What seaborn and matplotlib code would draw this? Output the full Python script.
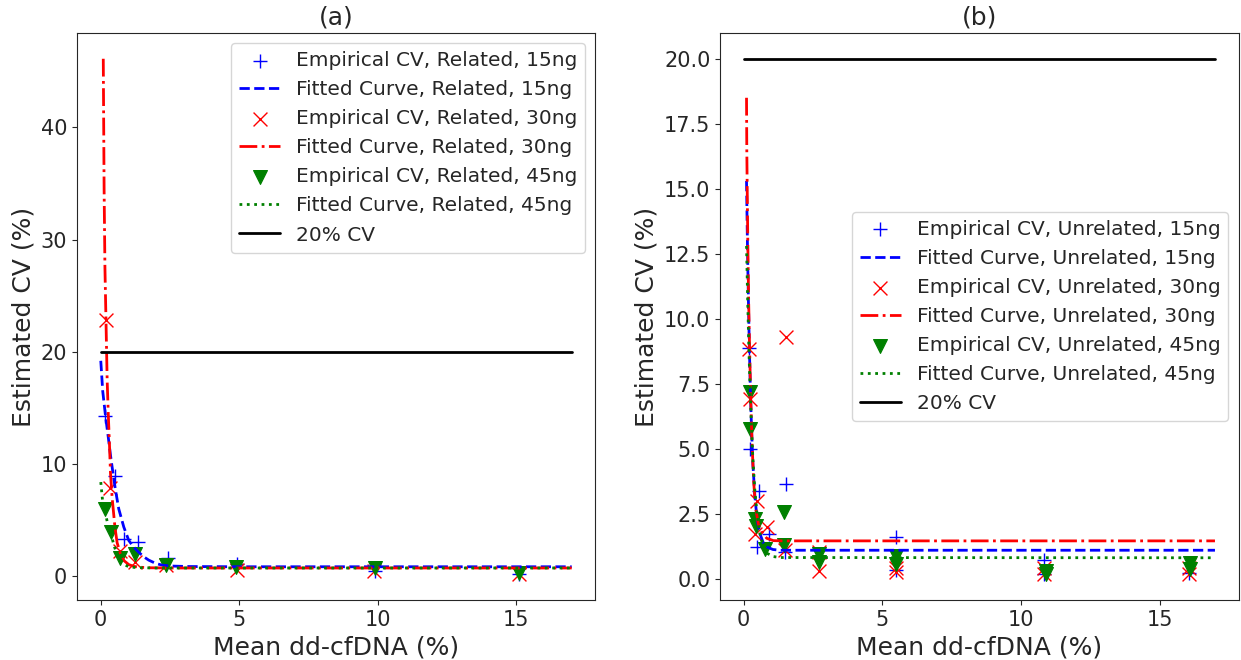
import matplotlib
matplotlib.use("Agg")
import matplotlib.pyplot as plt
import seaborn as sns

sns.set_style("ticks")
plt.rcParams['font.family'] = ['DejaVu Sans']

# ---- panel (a): related ----
rel15_x = [0.18, 0.52, 0.84, 1.36, 2.45, 4.91, 9.9, 15.1]
rel15_y = [14.3, 8.9, 3.3, 3.1, 1.6, 1.1, 0.45, 0.25]
rel30_x = [0.2, 0.36, 0.72, 1.24, 2.37, 4.91, 9.85, 15.1]
rel30_y = [22.8, 7.9, 2.25, 1.3, 1.0, 0.55, 0.45, 0.2]
rel45_x = [0.18, 0.38, 0.7, 1.26, 2.37, 4.9, 9.9, 15.1]
rel45_y = [6.0, 4.0, 1.66, 1.96, 1.0, 0.86, 0.75, 0.3]

fit_rel15_x = [0.01, 0.08, 0.18, 0.28, 0.36, 0.45, 0.54, 0.66, 0.84, 1.02, 1.2, 1.38, 1.56, 1.74, 2.0, 2.23, 2.6, 3.2, 5.0, 17.0]
fit_rel15_y = [19.2, 16.5, 14.3, 12.4, 10.8, 9.2, 7.7, 6.0, 4.4, 3.2, 2.6, 2.15, 1.75, 1.45, 1.15, 1.0, 0.92, 0.88, 0.86, 0.86]
fit_rel30_x = [0.1, 0.13, 0.16, 0.2, 0.24, 0.28, 0.32, 0.36, 0.42, 0.52, 0.6, 0.72, 0.85, 1.02, 1.2, 1.4, 1.8, 2.5, 17.0]
fit_rel30_y = [46.1, 34.5, 27.5, 22.5, 17.5, 14.5, 12.0, 9.2, 7.0, 4.4, 3.0, 2.0, 1.4, 1.05, 0.9, 0.82, 0.77, 0.75, 0.75]
fit_rel45_x = [0.01, 0.08, 0.18, 0.24, 0.31, 0.38, 0.48, 0.58, 0.7, 0.78, 0.9, 1.02, 1.3, 2.0, 17.0]
fit_rel45_y = [8.4, 6.6, 5.6, 4.9, 4.4, 3.8, 2.8, 2.1, 1.55, 1.3, 1.0, 0.86, 0.78, 0.75, 0.75]

# ---- panel (b): unrelated ----
unr15_x = [0.18, 0.24, 0.54, 0.48, 0.9, 1.52, 1.5, 5.5, 5.5, 10.85, 10.85, 16.05]
unr15_y = [8.87, 5.0, 3.37, 1.22, 1.73, 3.65, 1.03, 1.6, 0.35, 0.73, 0.2, 0.21]
unr30_x = [0.18, 0.22, 0.48, 0.42, 0.84, 1.52, 1.5, 2.7, 2.7, 5.5, 5.5, 10.85, 10.85, 16.05, 16.05]
unr30_y = [8.85, 6.92, 3.0, 1.73, 1.99, 9.3, 1.1, 1.03, 0.32, 0.41, 0.28, 0.41, 0.18, 0.4, 0.2]
unr45_x = [0.22, 0.24, 0.42, 0.45, 0.78, 1.47, 1.45, 2.7, 2.7, 5.5, 5.5, 10.9, 10.9, 16.1, 16.1]
unr45_y = [7.18, 5.77, 2.3, 2.05, 1.15, 2.56, 1.3, 0.97, 0.65, 0.88, 0.58, 0.32, 0.2, 0.6, 0.36]

fit_unr15_x = [0.1, 0.12, 0.14, 0.17, 0.2, 0.24, 0.28, 0.33, 0.4, 0.48, 0.58, 0.7, 0.85, 1.05, 1.3, 17.0]
fit_unr15_y = [15.3, 13.8, 12.4, 10.6, 9.0, 7.2, 5.8, 4.4, 3.2, 2.3, 1.75, 1.4, 1.22, 1.13, 1.1, 1.1]
fit_unr30_x = [0.1, 0.11, 0.13, 0.15, 0.18, 0.21, 0.25, 0.3, 0.36, 0.43, 0.53, 0.65, 0.83, 1.07, 1.4, 17.0]
fit_unr30_y = [18.5, 16.5, 14.5, 12.6, 10.5, 8.9, 7.0, 5.2, 3.7, 2.7, 2.1, 1.8, 1.56, 1.47, 1.46, 1.46]
fit_unr45_x = [0.1, 0.12, 0.14, 0.17, 0.2, 0.24, 0.28, 0.33, 0.4, 0.48, 0.58, 0.7, 0.85, 1.05, 1.3, 17.0]
fit_unr45_y = [12.8, 11.8, 10.8, 9.5, 8.3, 7.0, 5.8, 4.6, 3.4, 2.5, 1.75, 1.25, 0.98, 0.86, 0.82, 0.81]

cv_x = [0, 17]
cv_y = [20, 20]

fig, axes = plt.subplots(1, 2, figsize=(12.41, 6.6), dpi=100)
fig.subplots_adjust(left=0.062, right=0.998, top=0.95, bottom=0.091, wspace=0.241)


def draw(ax, kind, emp, fits, title, loc):
    (x15, y15), (x30, y30), (x45, y45) = emp
    (f15x, f15y), (f30x, f30y), (f45x, f45y) = fits
    sns.scatterplot(x=x15, y=y15, marker="+", s=100, color="blue", linewidth=1,
                    label=f"Empirical CV, {kind}, 15ng", ax=ax)
    sns.lineplot(x=f15x, y=f15y, sort=False, estimator=None, color="blue", linestyle="--",
                 linewidth=2, label=f"Fitted Curve, {kind}, 15ng", ax=ax)
    sns.scatterplot(x=x30, y=y30, marker="x", s=100, color="red", linewidth=1,
                    label=f"Empirical CV, {kind}, 30ng", ax=ax)
    sns.lineplot(x=f30x, y=f30y, sort=False, estimator=None, color="red", linestyle="-.",
                 linewidth=2, label=f"Fitted Curve, {kind}, 30ng", ax=ax)
    sns.scatterplot(x=x45, y=y45, marker="v", s=100, color="green", edgecolor="green",
                    label=f"Empirical CV, {kind}, 45ng", ax=ax)
    sns.lineplot(x=f45x, y=f45y, sort=False, estimator=None, color="green", linestyle=":",
                 linewidth=2, label=f"Fitted Curve, {kind}, 45ng", ax=ax)
    sns.lineplot(x=cv_x, y=cv_y, sort=False, estimator=None, color="black", linewidth=2,
                 label="20% CV", ax=ax)
    ax.set_title(title, fontsize=18)
    ax.set_xlabel("Mean dd-cfDNA (%)", fontsize=18)
    ax.set_ylabel("Estimated CV (%)", fontsize=18)
    ax.tick_params(labelsize=15)
    ax.set_xticks([0, 5, 10, 15])
    ax.legend(loc=loc, fontsize=14.5)


draw(axes[0], "Related",
     [(rel15_x, rel15_y), (rel30_x, rel30_y), (rel45_x, rel45_y)],
     [(fit_rel15_x, fit_rel15_y), (fit_rel30_x, fit_rel30_y), (fit_rel45_x, fit_rel45_y)],
     "(a)", "upper right")
draw(axes[1], "Unrelated",
     [(unr15_x, unr15_y), (unr30_x, unr30_y), (unr45_x, unr45_y)],
     [(fit_unr15_x, fit_unr15_y), (fit_unr30_x, fit_unr30_y), (fit_unr45_x, fit_unr45_y)],
     "(b)", "center right")
axes[0].set_yticks([0, 10, 20, 30, 40])

fig.savefig("out.png", dpi=100)
